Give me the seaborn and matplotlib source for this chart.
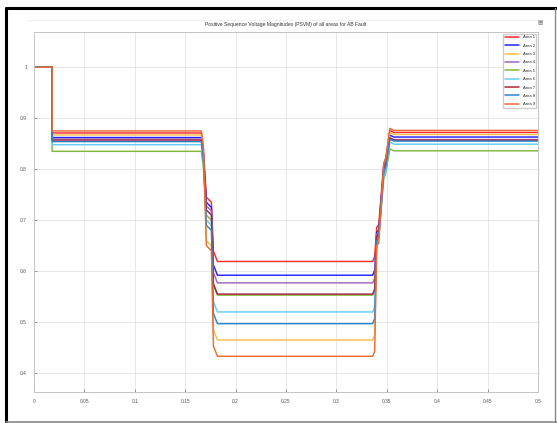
import pandas as pd
import numpy as np
import matplotlib
matplotlib.use("Agg")
import matplotlib.pyplot as plt
import seaborn as sns
from matplotlib.lines import Line2D

# breakpoint times (s) shared by all areas
times = [0, 0.018, 0.018, 0.166, 0.168, 0.171, 0.176, 0.178, 0.182, 0.336,
         0.338, 0.340, 0.342, 0.347, 0.349, 0.353, 0.357, 0.5]

areas = ["Area 1", "Area 2", "Area 3", "Area 4", "Area 5",
         "Area 6", "Area 7", "Area 8", "Area 9"]

# levels (pu)
pre = [0.871, 0.862, 0.867, 0.859, 0.835, 0.848, 0.857, 0.854, 0.875]
drop_shoulder = [0.745, 0.735, 0.660, 0.728, 0.710, 0.700, 0.720, 0.690, 0.650]
fault = [0.619, 0.592, 0.465, 0.577, 0.553, 0.520, 0.555, 0.497, 0.433]
rec_shoulder1 = [0.686, 0.676, 0.655, 0.672, 0.664, 0.662, 0.668, 0.660, 0.650]
rec_shoulder2 = [0.812, 0.806, 0.790, 0.800, 0.782, 0.786, 0.800, 0.795, 0.810]
post = [0.872, 0.863, 0.868, 0.858, 0.836, 0.849, 0.857, 0.855, 0.876]

colors = ["#ff2a2a", "#2424ff", "#f7be4a", "#a066bb", "#7fb83a",
          "#62cdf7", "#a8243c", "#2a86cc", "#f06a32"]

rows = []
for i, a in enumerate(areas):
    vals = [1.0, 1.0, pre[i], pre[i], pre[i] - 0.03, drop_shoulder[i], drop_shoulder[i] - 0.01,
            fault[i] + 0.02, fault[i], fault[i],
            fault[i] + 0.01, rec_shoulder1[i], rec_shoulder1[i] + 0.005, rec_shoulder2[i],
            rec_shoulder2[i] + 0.01, post[i] + 0.004, post[i], post[i]]
    for t, v in zip(times, vals):
        rows.append({"t": t, "v": v, "area": a})
df = pd.DataFrame(rows)

sns.set_style("whitegrid")
plt.rcParams['font.family'] = ['Liberation Sans', 'DejaVu Sans']

fig = plt.figure(figsize=(5.57, 4.23), dpi=100)
ax = fig.add_axes([34/557, 31/423, 504/557, 360/423])

sns.lineplot(data=df, x="t", y="v", hue="area", palette=colors, sort=False,
             estimator=None, linewidth=1.05, ax=ax, legend=False)

ax.set_xlim(0, 0.5)
ax.set_ylim(0.363, 1.069)
ax.set_xticks(np.arange(0, 0.501, 0.05))
ax.set_xticklabels(["0", "0.05", "0.1", "0.15", "0.2", "0.25", "0.3", "0.35", "0.4", "0.45", "0.5"])
ax.set_yticks([0.4, 0.5, 0.6, 0.7, 0.8, 0.9, 1.0])
ax.set_yticklabels(["0.4", "0.5", "0.6", "0.7", "0.8", "0.9", "1"])
ax.tick_params(labelsize=3.5, colors="#555555", length=2, width=0.4, direction="in", pad=5)
ax.tick_params(axis="both", which="both", left=True, bottom=True)
ax.grid(True, color="#e3e3e3", linewidth=0.6)
for s in ax.spines.values():
    s.set_color("#c4c4c4")
    s.set_linewidth(0.7)
ax.set_xlabel("")
ax.set_ylabel("")
ax.set_title("Positive Sequence Voltage Magnitudes (PSVM) of all areas for AB Fault",
             fontsize=3.6, color="#333333", pad=4)

handles = [Line2D([0], [0], color=c, lw=1.1) for c in colors]
ax.legend(handles, areas, loc="upper right", fontsize=3, handlelength=3.5,
          labelspacing=1.05, borderaxespad=0.4, frameon=True, edgecolor="#cccccc",
          fancybox=False, framealpha=1)

# window frame and toolbar separator
fig.add_artist(Line2D([6/557, 1], [1 - 8/423, 1 - 8/423], color="black", lw=2.2, transform=fig.transFigure))
fig.add_artist(Line2D([6/557, 6/557], [1/423, 1 - 8/423], color="black", lw=2.2, transform=fig.transFigure))
fig.add_artist(Line2D([6/557, 1], [1.5/423, 1.5/423], color="#888888", lw=1.2, transform=fig.transFigure))
fig.add_artist(Line2D([555/557, 555/557], [1/423, 1 - 8/423], color="#888888", lw=1.0, transform=fig.transFigure))
fig.add_artist(Line2D([28/557, 540/557], [1 - 20/423, 1 - 20/423], color="#eeeeee", lw=0.6, transform=fig.transFigure))
fig.text(540/557, 1 - 23/423, "▤", fontsize=4, color="#666666", ha="center", va="center",
         family="DejaVu Sans")

plt.savefig("out.png", dpi=100)
